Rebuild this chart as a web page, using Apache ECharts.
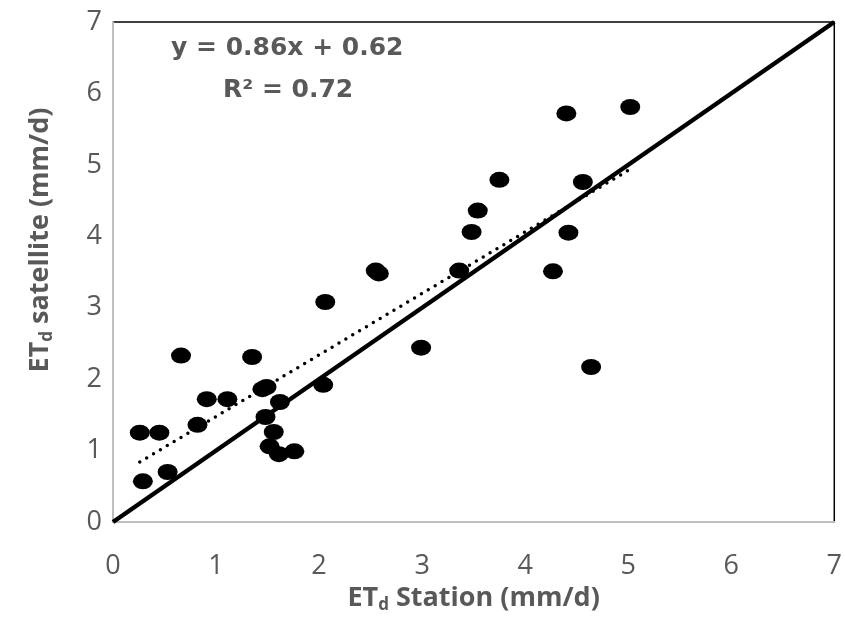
<!DOCTYPE html>
<html>
<head>
<meta charset="utf-8">
<script src="https://cdn.jsdelivr.net/npm/echarts@6/dist/echarts.min.js"></script>
<style>
  html, body { margin: 0; padding: 0; background: #fff; }
  #main { width: 845px; height: 619px; }
</style>
</head>
<body>
<div id="main"></div>
<script>
// ET station vs ET satellite (mm/d)
const stationX = [0.26, 0.45, 0.29, 0.53, 0.66, 0.82, 0.91, 1.11, 1.35, 1.45, 1.49, 1.48, 1.52, 1.56, 1.61, 1.62, 1.76,
    2.04, 2.06, 2.55, 2.58, 2.99, 3.36, 3.48, 3.54, 3.75, 4.27, 4.42, 4.40, 4.56, 4.64, 5.02];
const satelliteY = [1.25, 1.25, 0.57, 0.70, 2.33, 1.36, 1.72, 1.72, 2.31, 1.86, 1.89, 1.47, 1.06, 1.26, 0.95, 1.68, 0.99,
    1.92, 3.08, 3.52, 3.48, 2.44, 3.52, 4.06, 4.36, 4.79, 3.51, 4.05, 5.72, 4.76, 2.17, 5.81];

// linear trend line end points (y = 0.86x + 0.62)
const trendX = [0.26, 5.02];
const trendY = [0.84, 4.94];

// 1:1 line
const oneToOneX = [0, 7];
const oneToOneY = [0, 7];

const axisTicks = [0, 1, 2, 3, 4, 5, 6, 7];

const chart = echarts.init(document.querySelector("#main"));

const labelStyle = {
    fontFamily: "Open Sans",
    fontSize: 27,
    color: "#595959",
};

const nameRich = {
    b: { fontFamily: "Open Sans", fontWeight: "bold", fontSize: 27, color: "#595959" },
    s: { fontFamily: "Open Sans", fontWeight: "bold", fontSize: 17, color: "#595959", padding: [14, 0, 0, 0] },
};

let option = {
    animation: false,
    grid: {
        left: 113,
        right: 9,
        top: 22,
        bottom: 97,
        show: true,
        borderColor: "#000",
        borderWidth: 1.5,
    },
    xAxis: {
        type: "value",
        min: axisTicks[0],
        max: axisTicks[axisTicks.length - 1],
        interval: 1,
        splitLine: { show: false },
        axisTick: { show: false },
        axisLine: { lineStyle: { color: "#bfbfbf", width: 2 } },
        axisLabel: Object.assign({ margin: 31 }, labelStyle),
        name: "{b|ET}{s|d}{b| Station (mm/d)}",
        nameLocation: "middle",
        nameGap: 60,
        nameTextStyle: { rich: nameRich },
    },
    yAxis: {
        type: "value",
        min: axisTicks[0],
        max: axisTicks[axisTicks.length - 1],
        interval: 1,
        splitLine: { show: false },
        axisTick: { show: false },
        axisLine: { lineStyle: { color: "#bfbfbf", width: 2 } },
        axisLabel: Object.assign({ margin: 11 }, labelStyle),
        name: "{b|ET}{s|d}{b| satellite (mm/d)}",
        nameLocation: "middle",
        nameGap: 57,
        nameTextStyle: { rich: nameRich, padding: [0, 0, 0, 64] },
    },
    graphic: [
        {
            type: "text",
            left: 171,
            top: 36,
            style: {
                text: "y = 0.86x + 0.62",
                font: "bold 25px 'DejaVu Sans'",
                fill: "#595959",
            },
        },
        {
            type: "text",
            left: 223,
            top: 78,
            style: {
                text: "R² = 0.72",
                font: "bold 25px 'DejaVu Sans'",
                fill: "#595959",
            },
        },
    ],
    series: [
        {
            type: "line",
            data: oneToOneX.map((x, i) => [x, oneToOneY[i]]),
            symbol: "none",
            lineStyle: { color: "#000", width: 4.5 },
            z: 3,
        },
        {
            type: "line",
            data: trendX.map((x, i) => [x, trendY[i]]),
            symbol: "none",
            lineStyle: { color: "#000", width: 3.5, type: [0, 8], cap: "round" },
            z: 3,
        },
        {
            type: "scatter",
            data: stationX.map((x, i) => [x, satelliteY[i]]),
            symbol: "circle",
            symbolSize: [20, 16],
            itemStyle: { color: "#000", opacity: 1 },
            z: 4,
        },
    ],
};

chart.setOption(option);
</script>
</body>
</html>
